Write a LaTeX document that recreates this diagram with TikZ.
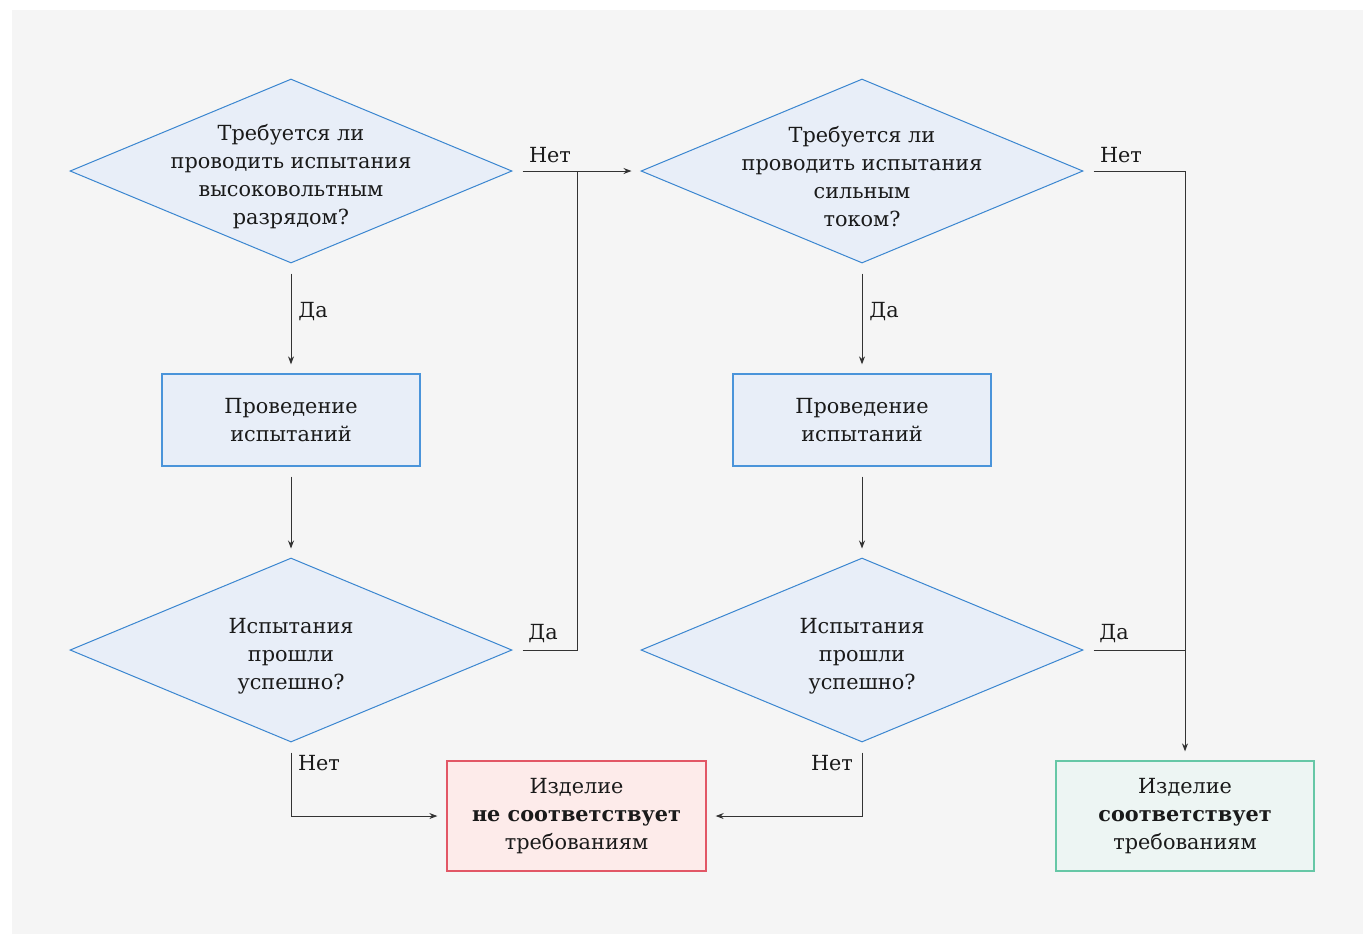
\documentclass[tikz,border=0pt]{standalone}
\usepackage{fontspec}
\setmainfont{DejaVu Serif}
\usetikzlibrary{shapes.geometric}
\usetikzlibrary{arrows.meta}
\usetikzlibrary{positioning}
\definecolor{bgcol}{HTML}{F5F5F5}
\definecolor{qfill}{HTML}{E8EEF8}
\definecolor{qline}{HTML}{3A86D0}
\definecolor{pline}{HTML}{4A94DA}
\definecolor{badfill}{HTML}{FDEBEA}
\definecolor{badline}{HTML}{E25766}
\definecolor{okfill}{HTML}{EDF5F3}
\definecolor{okline}{HTML}{66C7A6}
\definecolor{ink}{HTML}{1A1A1A}
\definecolor{wire}{HTML}{333333}

\begin{document}
\begin{tikzpicture}[x=0.5pt,y=-0.5pt,
  decision/.style={diamond,draw=qline,fill=qfill,line width=0.5pt,inner sep=0pt,
    minimum width=221pt,minimum height=92pt},
  txt/.style={align=center,text=ink,font=\fontsize{10.4}{14}\selectfont},
  qtxt/.style={txt,yshift=-3pt},
  process/.style={rectangle,draw=pline,fill=qfill,line width=0.65pt,
    minimum width=129pt,minimum height=46pt},
  bad/.style={rectangle,draw=badline,fill=badfill,line width=0.65pt,
    minimum width=129.5pt,minimum height=55pt},
  good/.style={rectangle,draw=okline,fill=okfill,line width=0.65pt,
    minimum width=129pt,minimum height=55pt},
  lbl/.style={text=ink,font=\fontsize{10.4}{12}\selectfont,inner sep=0pt},
  link/.style={draw=wire,line width=0.5pt,shorten <=5pt},
  arr/.style={link,-{Stealth[length=4pt,width=3pt]},shorten >=4.5pt}]
\useasboundingbox (0,0) rectangle (1363,934);
\fill[bgcol] (12,10) rectangle (1363,934);

\node[decision] (q1) at (291,171) {};
\node[qtxt] (q1t) at (q1) {Требуется ли\\проводить испытания\\высоковольтным\\разрядом?};
\node[decision] (q2) at (862,171) {};
\node[qtxt] (q2t) at (q2) {Требуется ли\\проводить испытания\\сильным\\током?};
\node[process,txt] (p1) at (291,420) {Проведение\\испытаний};
\node[process,txt] (p2) at (862,420) {Проведение\\испытаний};
\node[decision] (q3) at (291,650) {};
\node[qtxt] (q3t) at (q3) {Испытания\\прошли\\успешно?};
\node[decision] (q4) at (862,650) {};
\node[qtxt] (q4t) at (q4) {Испытания\\прошли\\успешно?};
\node[bad,txt] (fail) at (576.5,816) {Изделие\\\textbf{не соответствует}\\требованиям};
\node[good,txt] (ok) at (1185,816) {Изделие\\\textbf{соответствует}\\требованиям};

\coordinate (j1) at (577,171);
\coordinate (j2) at (1185,650);

\node[lbl] (l1) at (550,155) {Нет};
\node[lbl] (l2) at (1121,155) {Нет};
\node[lbl] (l3) at (313,312) {Да};
\node[lbl] (l4) at (884,312) {Да};
\node[lbl] (l5) at (543,634) {Да};
\node[lbl] (l6) at (1114,634) {Да};
\node[lbl] (l7) at (319,763) {Нет};
\node[lbl] (l8) at (832,763) {Нет};

\draw[arr] (q1.east) -- (q2.west);
\draw[link] (q3.east) -| (j1);
\draw[arr] (q2.east) -| (ok.north);
\draw[link] (q4.east) -- (j2);
\draw[arr] (q1.south) -- (p1.north);
\draw[arr] (q2.south) -- (p2.north);
\draw[arr] (p1.south) -- (q3.north);
\draw[arr] (p2.south) -- (q4.north);
\draw[arr] (q3.south) |- (fail.west);
\draw[arr] (q4.south) |- (fail.east);
\end{tikzpicture}
\end{document}
